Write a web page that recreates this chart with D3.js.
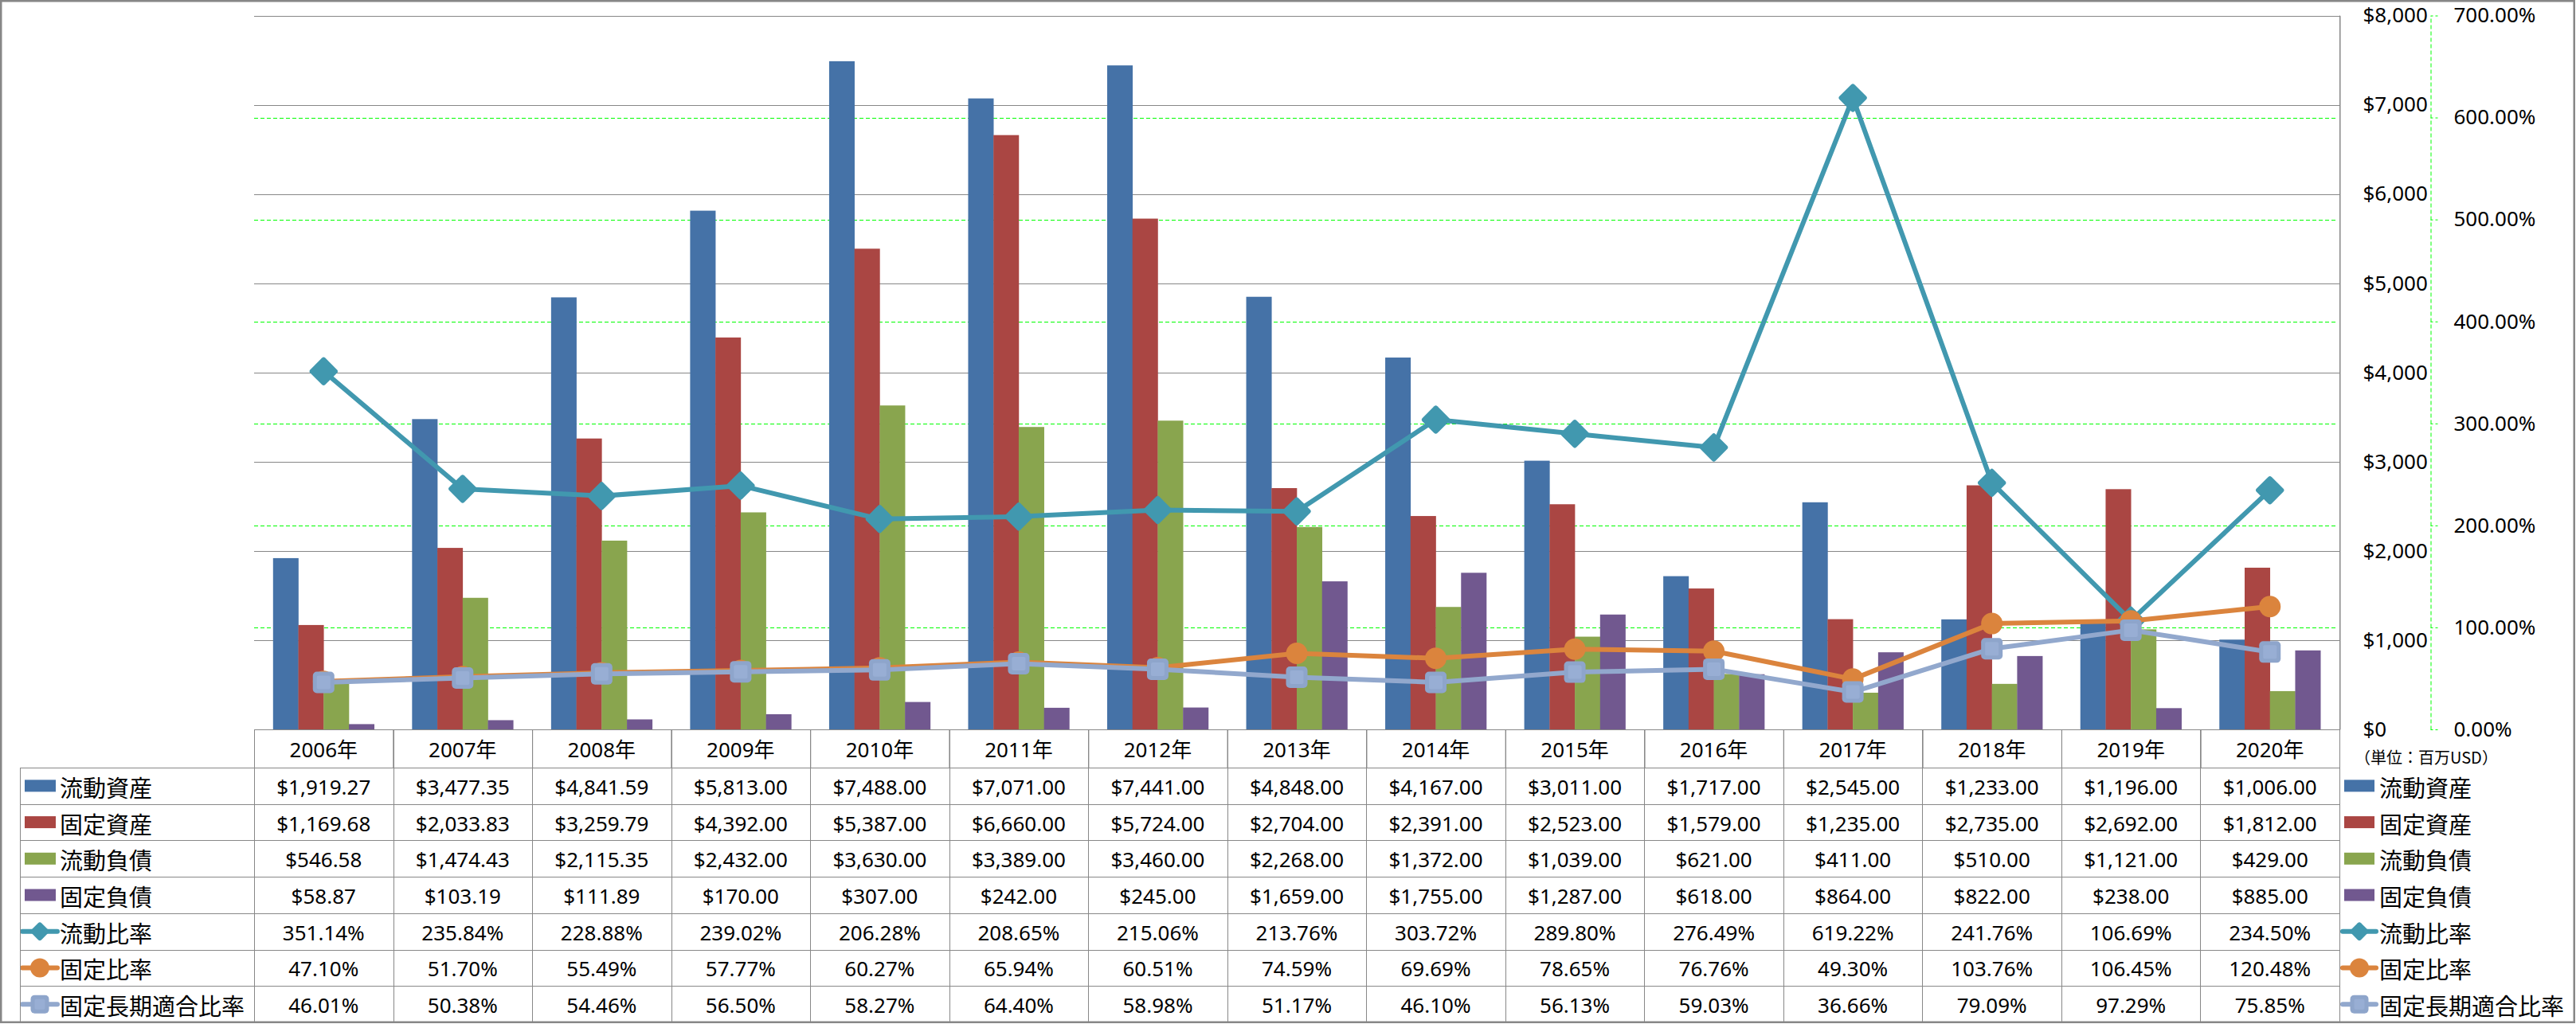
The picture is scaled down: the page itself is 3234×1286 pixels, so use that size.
<!DOCTYPE html>
<html>
<head>
<meta charset="utf-8">
<script src="https://cdn.jsdelivr.net/npm/d3@7/dist/d3.min.js"></script>
<style>
  html, body { margin: 0; padding: 0; background: #fff; }
  svg { display: block; }
  text { fill: #000; }
</style>
</head>
<body>
<script>
// ---------------- DATA ----------------
const years = ["2006年","2007年","2008年","2009年","2010年","2011年","2012年","2013年","2014年","2015年","2016年","2017年","2018年","2019年","2020年"];

const currentAssets     = [1919.27, 3477.35, 4841.59, 5813.00, 7488.00, 7071.00, 7441.00, 4848.00, 4167.00, 3011.00, 1717.00, 2545.00, 1233.00, 1196.00, 1006.00];
const fixedAssets       = [1169.68, 2033.83, 3259.79, 4392.00, 5387.00, 6660.00, 5724.00, 2704.00, 2391.00, 2523.00, 1579.00, 1235.00, 2735.00, 2692.00, 1812.00];
const currentLiab       = [546.58, 1474.43, 2115.35, 2432.00, 3630.00, 3389.00, 3460.00, 2268.00, 1372.00, 1039.00, 621.00, 411.00, 510.00, 1121.00, 429.00];
const fixedLiab         = [58.87, 103.19, 111.89, 170.00, 307.00, 242.00, 245.00, 1659.00, 1755.00, 1287.00, 618.00, 864.00, 822.00, 238.00, 885.00];
const currentRatio      = [351.14, 235.84, 228.88, 239.02, 206.28, 208.65, 215.06, 213.76, 303.72, 289.80, 276.49, 619.22, 241.76, 106.69, 234.50];
const fixedRatio        = [47.10, 51.70, 55.49, 57.77, 60.27, 65.94, 60.51, 74.59, 69.69, 78.65, 76.76, 49.30, 103.76, 106.45, 120.48];
const fixedLongRatio    = [46.01, 50.38, 54.46, 56.50, 58.27, 64.40, 58.98, 51.17, 46.10, 56.13, 59.03, 36.66, 79.09, 97.29, 75.85];

const barNames  = ["流動資産","固定資産","流動負債","固定負債"];
const lineNames = ["流動比率","固定比率","固定長期適合比率"];
const leftTicks  = [0,1000,2000,3000,4000,5000,6000,7000,8000];
const rightTicks = [0,100,200,300,400,500,600,700];
const unitLabel = "（単位：百万USD）";

// ---------------- STYLE ----------------
const barColors  = ["#4572A7","#AA4643","#89A54E","#71588F"];
const lineColors = ["#4198AF","#DB843D","#92A8CD"];
const markerShapes = ["diamond","circle","square"];
const gridGray = "#878787";
const green = "#00FF00";

const W = 3234, H = 1286;
const plotL = 319, plotR = 2937, plotT = 19.5, plotB = 916;
const tableL = 25, headerB = 964, tableB = 1284;
const numFont = "'Noto Sans','Noto Sans CJK JP',sans-serif";
const cjkFont = "'Noto Sans CJK JP','Noto Sans',sans-serif";

const barData = [currentAssets, fixedAssets, currentLiab, fixedLiab];
const lineData = [currentRatio, fixedRatio, fixedLongRatio];

const svg = d3.select("body").append("svg").attr("width", W).attr("height", H);

// scales
const x = d3.scaleBand().domain(years).range([plotL, plotR]).padding(0);
const xs = d3.scaleBand().domain(barNames).range([0, x.bandwidth()]).paddingInner(0).paddingOuter(0.75);
const y = d3.scaleLinear().domain([0, 8000]).range([plotB, plotT]);
const y2 = d3.scaleLinear().domain([0, 700]).range([plotB, plotT]);

// gridlines: secondary (green dashed)
svg.append("g").selectAll("line").data(rightTicks.filter(d => d > 0)).join("line")
  .attr("x1", plotL).attr("x2", plotR - 2)
  .attr("y1", d => Math.round(y2(d)) + 0.5).attr("y2", d => Math.round(y2(d)) + 0.5)
  .attr("stroke", green).attr("stroke-width", 1).attr("stroke-dasharray", "5,3");

// gridlines: primary (gray)
svg.append("g").selectAll("line").data(leftTicks.filter(d => d > 0)).join("line")
  .attr("x1", plotL).attr("x2", plotR)
  .attr("y1", d => Math.round(y(d)) + 0.5).attr("y2", d => Math.round(y(d)) + 0.5)
  .attr("stroke", gridGray).attr("stroke-width", 1);

// bars
const gBars = svg.append("g");
barData.forEach((vals, si) => {
  gBars.append("g").selectAll("rect").data(vals).join("rect")
    .attr("x", (d, i) => x(years[i]) + xs(barNames[si]))
    .attr("width", xs.bandwidth() + 0.3)
    .attr("y", d => y(d))
    .attr("height", d => plotB - y(d))
    .attr("fill", barColors[si]);
});

// marker drawing helper (size = overall extent)
function drawMarker(g, shape, color, cx, cy, size) {
  if (shape === "diamond") {
    const s = size / 1.35;
    g.append("rect").attr("x", -s/2).attr("y", -s/2).attr("width", s).attr("height", s)
      .attr("rx", 3).attr("fill", color)
      .attr("transform", `translate(${cx},${cy}) rotate(45)`);
  } else if (shape === "circle") {
    g.append("circle").attr("cx", cx).attr("cy", cy).attr("r", size / 2).attr("fill", color);
  } else {
    g.append("rect").attr("x", cx - size/2).attr("y", cy - size/2).attr("width", size).attr("height", size)
      .attr("rx", 5).attr("fill", "#8EA5CB");
    g.append("rect").attr("x", cx - size/2 + 5).attr("y", cy - size/2 + 5).attr("width", size - 10).attr("height", size - 10)
      .attr("rx", 2).attr("fill", "#98AED4");
  }
}
const mainMarkerSize = [36, 27, 27];
const keyMarkerSize = [24, 24, 23];

// lines
const line = d3.line().x((d, i) => x(years[i]) + x.bandwidth() / 2).y(d => y2(d));
lineData.forEach((vals, si) => {
  const g = svg.append("g");
  g.append("path").datum(vals).attr("d", line)
    .attr("fill", "none").attr("stroke", lineColors[si]).attr("stroke-width", 6)
    .attr("stroke-linejoin", "round");
  vals.forEach((v, i) => drawMarker(g, markerShapes[si], lineColors[si], x(years[i]) + x.bandwidth() / 2, y2(v), mainMarkerSize[si]));
});

// primary axis (right side of plot)
const axL = svg.append("g").attr("transform", `translate(${plotR + 0.5},0)`)
  .call(d3.axisRight(y).tickValues(leftTicks).tickFormat(d3.format("$,")).tickSize(0).tickPadding(29));
axL.select(".domain").attr("stroke", gridGray);
axL.selectAll("text").attr("font-family", numFont).attr("font-size", 26).attr("fill", "#000");

// secondary axis
const axR = svg.append("g").attr("transform", `translate(3051.5,0)`)
  .call(d3.axisRight(y2).tickValues(rightTicks).tickFormat(d => d.toFixed(2) + "%").tickSizeInner(10).tickSizeOuter(0).tickPadding(19));
axR.select(".domain").attr("stroke", green).attr("stroke-dasharray", "5,3");
axR.selectAll(".tick line").attr("stroke", green).attr("stroke-dasharray", "3,3");
axR.selectAll("text").attr("font-family", numFont).attr("font-size", 26).attr("fill", "#000");

// unit label
svg.append("text").attr("x", 2956).attr("y", 950).attr("dominant-baseline", "central")
  .attr("font-family", cjkFont).attr("font-size", 20).text(unitLabel);

// ---------------- DATA TABLE ----------------
const rowH = (tableB - headerB) / 7;
const gT = svg.append("g");
const tableStroke = "#888";

// header row cells
years.forEach(yr => {
  gT.append("rect").attr("x", x(yr) + 0.5).attr("y", plotB + 0.5)
    .attr("width", x.bandwidth()).attr("height", headerB - plotB)
    .attr("fill", "none").attr("stroke", tableStroke).attr("stroke-width", 1);
  gT.append("text").attr("x", x(yr) + x.bandwidth() / 2).attr("y", (plotB + headerB) / 2 + 1)
    .attr("text-anchor", "middle").attr("dominant-baseline", "central")
    .attr("font-family", numFont).attr("font-size", 26).text(yr);
});

const allRows = [...barData, ...lineData];
const allNames = [...barNames, ...lineNames];
const fmtMoney = d3.format("$,.2f");
const fmtPct = d => d.toFixed(2) + "%";

allRows.forEach((vals, ri) => {
  const top = headerB + ri * rowH;
  const cy = top + rowH / 2;
  gT.append("line").attr("x1", tableL).attr("x2", plotR).attr("y1", Math.round(top) + 0.5).attr("y2", Math.round(top) + 0.5)
    .attr("stroke", tableStroke);
  if (ri < 4) {
    gT.append("rect").attr("x", 31).attr("y", cy - 7.5).attr("width", 39).attr("height", 15).attr("fill", barColors[ri]);
  } else {
    const li = ri - 4;
    gT.append("line").attr("x1", 28).attr("x2", 72).attr("y1", cy).attr("y2", cy)
      .attr("stroke", lineColors[li]).attr("stroke-width", 6).attr("stroke-linecap", "round");
    drawMarker(gT, markerShapes[li], lineColors[li], 50, cy, keyMarkerSize[li]);
  }
  gT.append("text").attr("x", 75).attr("y", cy + 1).attr("dominant-baseline", "central")
    .attr("font-family", cjkFont).attr("font-size", 29).text(allNames[ri]);
  vals.forEach((v, i) => {
    gT.append("text").attr("x", x(years[i]) + x.bandwidth() / 2).attr("y", cy + 1)
      .attr("text-anchor", "middle").attr("dominant-baseline", "central")
      .attr("font-family", numFont).attr("font-size", 26)
      .text(ri < 4 ? fmtMoney(v) : fmtPct(v));
  });
  if (ri < 4) {
    svg.append("rect").attr("x", 2943).attr("y", cy - 7.5).attr("width", 38).attr("height", 15).attr("fill", barColors[ri]);
  } else {
    const li = ri - 4;
    svg.append("line").attr("x1", 2941).attr("x2", 2983).attr("y1", cy).attr("y2", cy)
      .attr("stroke", lineColors[li]).attr("stroke-width", 6).attr("stroke-linecap", "round");
    drawMarker(svg, markerShapes[li], lineColors[li], 2962, cy, keyMarkerSize[li]);
  }
  svg.append("text").attr("x", 2987).attr("y", cy + 1).attr("dominant-baseline", "central")
    .attr("font-family", cjkFont).attr("font-size", 29).text(allNames[ri]);
});

// vertical lines in table
gT.append("line").attr("x1", tableL + 0.5).attr("x2", tableL + 0.5).attr("y1", headerB).attr("y2", tableB).attr("stroke", tableStroke);
years.forEach(yr => {
  gT.append("line").attr("x1", Math.round(x(yr)) + 0.5).attr("x2", Math.round(x(yr)) + 0.5)
    .attr("y1", plotB).attr("y2", tableB).attr("stroke", tableStroke);
});
gT.append("line").attr("x1", plotR + 0.5).attr("x2", plotR + 0.5).attr("y1", plotT).attr("y2", tableB).attr("stroke", tableStroke);
gT.append("line").attr("x1", tableL).attr("x2", plotR).attr("y1", tableB).attr("y2", tableB).attr("stroke", tableStroke);

// outer border
svg.append("rect").attr("x", 1.25).attr("y", 1.25).attr("width", W - 3.5).attr("height", H - 3.5)
  .attr("fill", "none").attr("stroke", gridGray).attr("stroke-width", 2.5);
</script>
</body>
</html>
